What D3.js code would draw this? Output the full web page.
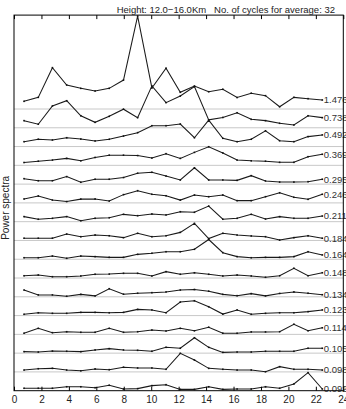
<!DOCTYPE html>
<html><head><meta charset="utf-8">
<script src="https://cdn.jsdelivr.net/npm/d3@7/dist/d3.min.js"></script>
<style>
body{margin:0;background:#fff;}
svg{display:block;font-family:"Liberation Sans",Arial,Helvetica,sans-serif;}
</style>
</head><body><div id="chart"></div>
<script>
// Frequencies of the spectral points (x axis)
const freqs = [0.73,1.77,2.8,3.84,4.87,5.91,6.94,7.98,9.01,10.05,11.08,12.12,13.15,14.19,15.22,16.26,17.29,18.33,19.36,20.4,21.43,22.47];
// Period labels, bottom to top
const periodLabels = ["0.092","0.098","0.105","0.114","0.123","0.134","0.148","0.164","0.184","0.211","0.246","0.295","0.369","0.492","0.738","1.476"];
// Spectral power of each series (relative to its own baseline), bottom to top
const s0  = [0.13,0.13,0.13,0.21,0.21,0.16,0.29,0.09,0.11,0.27,0.32,0.07,0.07,0.21,0.07,0.09,0.09,0.21,0.13,0.36,0.96,0.09];
const s1  = [0.10,0.17,0.19,0.10,0.06,0.16,0.12,0.25,0.21,0.21,0.14,0.99,0.63,0.19,0.14,0.10,0.10,0.01,0.28,0.14,0.14,0.10];
const s2  = [0.08,0.06,0.11,0.10,0.08,0.17,0.24,0.17,0.15,0.10,0.31,0.26,0.82,0.31,0.04,0.06,0.06,0.10,0.10,0.10,0.26,0.26];
const s3  = [0.06,0.32,0.09,0.14,0.11,0.11,0.32,0.11,0.14,0.23,0.18,0.32,0.19,0.38,0.06,0.06,0.13,0.13,0.14,0.54,0.19,0.35];
const s4  = [0.07,0.15,0.12,0.12,0.17,0.17,0.15,0.17,0.33,0.30,0.15,0.72,0.79,0.47,0.08,0.30,0.07,0.12,0.15,0.15,0.21,0.30];
const s5  = [0.36,0.10,0.10,0.03,0.13,0.05,0.43,0.14,0.19,0.22,0.26,0.36,0.39,0.30,0.13,0.06,0.17,0.05,0.18,0.26,0.19,0.11];
const s6  = [0.12,0.16,0.07,0.07,0.11,0.20,0.21,0.25,0.25,0.11,0.34,0.20,0.28,0.20,0.11,0.16,0.11,0.04,0.12,0.52,0.12,0.28];
const s7  = [0.08,0.08,0.17,0.05,0.17,0.14,0.10,0.10,0.26,0.32,0.40,0.40,0.53,1.05,0.35,0.14,0.08,0.10,0.10,0.14,0.40,0.23];
const s8  = [0.12,0.12,0.12,0.34,0.20,0.29,0.25,0.15,0.38,0.20,0.25,0.43,0.91,0.10,0.38,0.29,0.24,0.20,0.02,0.15,0.25,0.12];
const s9  = [0.27,0.13,0.18,0.27,0.05,0.18,0.21,0.39,0.32,0.41,0.36,0.53,0.50,0.83,0.13,0.18,0.39,0.14,0.27,0.18,0.18,0.30];
const s10 = [0.21,0.37,0.15,0.07,0.20,0.21,0.10,0.44,0.65,0.46,0.38,0.15,0.42,0.33,0.42,0.12,0.12,0.33,0.54,0.30,0.19,0.46];
const s11 = [0.29,0.18,0.18,0.40,0.10,0.26,0.26,0.35,0.58,0.63,0.43,0.22,0.87,0.22,0.22,0.20,0.45,0.17,0.11,0.11,0.13,0.26];
const s12 = [0.15,0.22,0.28,0.37,0.24,0.42,0.54,0.54,0.52,0.39,0.62,0.37,0.69,0.99,0.66,0.28,0.24,0.22,0.16,0.16,0.46,0.59];
const s13 = [0.26,0.39,0.35,0.47,0.40,0.30,0.39,0.56,0.74,1.11,1.11,1.20,0.47,1.41,0.44,0.26,0.39,0.84,0.31,0.26,0.53,0.62];
const s14 = [0.38,0.19,1.16,1.44,0.64,0.29,0.61,0.99,0.54,2.23,1.34,1.69,2.19,0.42,0.55,0.80,0.45,0.38,0.24,0.15,0.64,0.54];
const s15 = [0.41,0.62,2.20,1.28,1.10,0.96,1.10,1.54,4.95,1.12,2.17,0.89,1.22,0.92,1.05,0.61,0.84,0.71,0.12,0.62,0.55,0.48];
const seriesList = [s0,s1,s2,s3,s4,s5,s6,s7,s8,s9,s10,s11,s12,s13,s14,s15];
const xTicks = [0,2,4,6,8,10,12,14,16,18,20,22,24];
const title = "Height: 12.0\u221216.0Km   No. of cycles for average: 32";
const yTitle = "Power spectra";

const W = 346, H = 409;
const svg = d3.select("#chart").append("svg").attr("width", W).attr("height", H);

const x = d3.scaleLinear().domain([0, 24]).range([14, 343.3]);
const y = d3.scaleLinear().domain([0, 20]).range([390.7, 15.1]);

// baseline grid lines
const gridLevels = d3.range(1, seriesList.length);
svg.append("g").selectAll("line").data(gridLevels).join("line")
  .attr("x1", x(0)).attr("x2", x(24))
  .attr("y1", d => y(d)).attr("y2", d => y(d))
  .attr("stroke", "#c8c8c8").attr("stroke-width", 1);

// series lines
const line = d3.line().x((d, i) => x(freqs[i]));
const g = svg.append("g");
seriesList.forEach((vals, k) => {
  const pts = vals.map(v => v + k);
  g.append("path").datum(pts)
    .attr("d", line.y(d => y(d)))
    .attr("fill", "none").attr("stroke", "#1a1a1a").attr("stroke-width", 1.05)
    .attr("stroke-linejoin", "miter");
  g.append("g").selectAll("rect").data(pts).join("rect")
    .attr("x", (d, i) => x(freqs[i]) - 0.8).attr("y", d => y(d) - 0.8)
    .attr("width", 1.6).attr("height", 1.6).attr("fill", "#111");
  g.append("text")
    .attr("x", x(freqs[freqs.length - 1]) + 1.5)
    .attr("y", y(pts[pts.length - 1]))
    .attr("dy", "0.35em")
    .attr("font-size", 9.5).attr("fill", "#333")
    .text(periodLabels[k]);
});

// frame
svg.append("rect").attr("x", x(0)).attr("y", y(20))
  .attr("width", x(24) - x(0)).attr("height", y(0) - y(20))
  .attr("fill", "none").attr("stroke", "#000").attr("stroke-width", 1);

// bottom axis
const bottomAxis = svg.append("g").attr("transform", `translate(0,${y(0)})`)
  .call(d3.axisBottom(x).tickValues(xTicks).tickFormat(d3.format("d"))
    .tickSizeInner(-4).tickSizeOuter(0).tickPadding(5.5));
bottomAxis.select(".domain").remove();
bottomAxis.selectAll("line").attr("stroke", "#000");
bottomAxis.selectAll("text").attr("font-size", 10).attr("fill", "#222")
  .attr("font-family", '"Liberation Sans",Arial,sans-serif');

// top axis (ticks only)
const topAxis = svg.append("g").attr("transform", `translate(0,${y(20)})`)
  .call(d3.axisTop(x).tickValues(xTicks).tickFormat("")
    .tickSizeInner(-4).tickSizeOuter(0));
topAxis.select(".domain").remove();
topAxis.selectAll("line").attr("stroke", "#000");

// title
svg.append("text").attr("x", 335).attr("y", 12.5)
  .attr("text-anchor", "end").attr("font-size", 9.5).attr("fill", "#222")
  .style("white-space", "pre").text(title);

// y axis title
svg.append("text")
  .attr("transform", `translate(9,${(y(0) + y(20)) / 2 + 5}) rotate(-90)`)
  .attr("text-anchor", "middle").attr("font-size", 10).attr("fill", "#222")
  .text(yTitle);
</script>
</body></html>
